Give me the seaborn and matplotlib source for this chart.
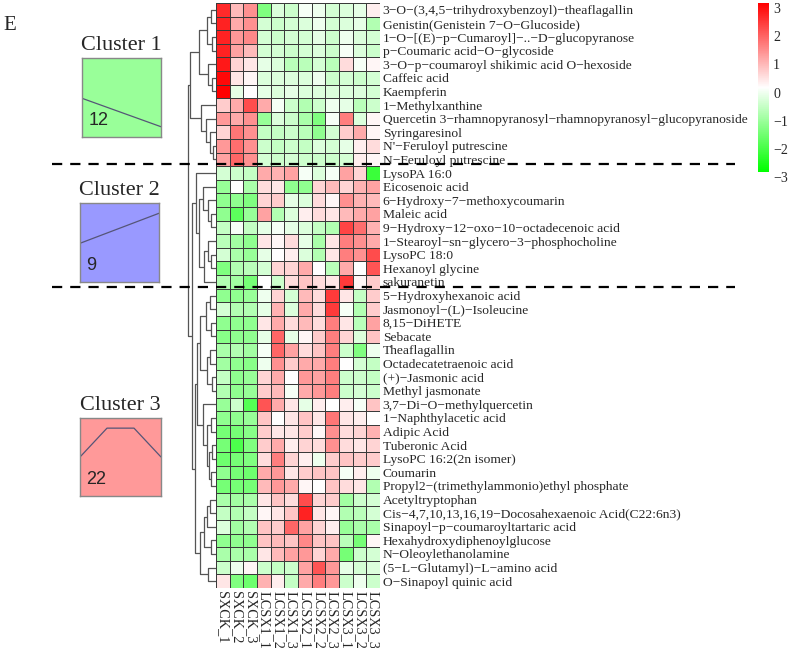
import numpy as np
import pandas as pd
import matplotlib
import matplotlib.pyplot as plt
import seaborn as sns
from matplotlib.colors import LinearSegmentedColormap
from matplotlib.lines import Line2D
from matplotlib.transforms import blended_transform_factory

samples = ['SXCK_1', 'SXCK_2', 'SXCK_3', 'LCSX1_1', 'LCSX1_2', 'LCSX1_3',
           'LCSX2_1', 'LCSX2_2', 'LCSX2_3', 'LCSX3_1', 'LCSX3_2', 'LCSX3_3']

# cluster 1 (12 metabolites)
names_c1 = ['3−O−(3,4,5−trihydroxybenzoyl)−theaflagallin',
            'Genistin(Genistein 7−O−Glucoside)',
            '1−O−[(E)−p−Cumaroyl]−..−D−glucopyranose',
            'p−Coumaric acid−O−glycoside',
            '3−O−p−coumaroyl shikimic acid O−hexoside',
            'Caffeic acid',
            'Kaempferin',
            '1−Methylxanthine',
            'Quercetin 3−rhamnopyranosyl−rhamnopyranosyl−glucopyranoside',
            'Syringaresinol',
            "N'−Feruloyl putrescine",
            'N−Feruloyl putrescine']
values_c1 = [
    [2.5, 0.8, 1.3, -1.5, -0.4, -0.6, -0.1, -0.2, -0.5, -0.4, -0.3, 0.2],
    [2.6, 1.0, 1.3, -0.5, -0.6, -0.5, -0.4, -0.2, -0.5, -0.4, -0.3, -0.9],
    [2.6, 1.2, 1.4, -0.5, -0.6, -0.5, -0.5, -0.3, -0.6, -0.2, -0.4, -0.5],
    [2.6, 1.1, 0.8, -0.5, -0.5, -0.6, -0.5, -0.4, -0.6, -0.1, -0.4, -0.6],
    [2.7, 0.5, 0.3, -0.3, -0.4, -0.8, -0.8, -0.5, -0.8, 0.4, -0.1, 0.1],
    [2.9, 0.3, 0.1, -0.4, -0.4, -0.4, -0.4, -0.2, -0.6, -0.5, -0.6, -0.5],
    [3.0, -0.3, 0.0, -0.3, -0.4, -0.3, -0.4, -0.4, -0.4, -0.4, -0.4, -0.5],
    [0.6, 1.0, 2.1, 1.0, -0.1, -0.6, -0.9, -0.6, -0.2, -0.3, -0.8, -0.6],
    [1.2, 1.0, 1.3, -1.2, -0.4, -0.6, -1.0, -1.5, -0.1, 1.5, -0.4, 0.1],
    [0.5, 1.6, 1.3, -0.7, -0.7, -0.6, -0.8, -1.3, -0.5, 0.6, 1.0, 0.1],
    [1.2, 1.7, 1.3, -0.6, -0.7, -0.6, -0.7, -0.4, -0.5, -0.3, 0.2, 0.4],
    [1.1, 1.8, 1.3, -0.5, -0.6, -0.5, -0.6, -0.6, -0.6, -0.5, 0.2, 0.1],
]

# cluster 2 (9 metabolites)
names_c2 = ['LysoPA 16:0',
            'Eicosenoic acid',
            '6−Hydroxy−7−methoxycoumarin',
            'Maleic acid',
            '9−Hydroxy−12−oxo−10−octadecenoic acid',
            '1−Stearoyl−sn−glycero−3−phosphocholine',
            'LysoPC 18:0',
            'Hexanoyl glycine',
            'sakuranetin']
values_c2 = [
    [-0.5, -0.6, -0.7, 1.0, 0.9, 1.1, -0.1, -0.4, -0.1, 1.1, 0.5, -2.3],
    [-1.2, 0.0, -1.0, 0.4, 0.3, -1.3, -1.3, 0.5, 0.8, 0.5, 0.9, 1.1],
    [-1.3, -1.3, -1.5, 0.5, 0.6, -0.3, -0.4, 0.4, 0.1, 1.3, 0.9, 0.8],
    [-1.3, -1.9, -1.2, 1.1, -0.9, -0.4, 0.2, 0.4, 0.3, 0.8, 1.0, 1.1],
    [-0.7, -0.1, -0.7, -0.3, -0.1, -0.3, -0.4, -0.7, -0.9, 2.2, 1.7, 0.9],
    [-0.8, -1.1, -1.3, 0.3, 0.1, 0.4, -0.3, -1.0, 0.3, 1.5, 1.3, 1.0],
    [-0.5, -1.0, -1.2, -0.3, 0.0, 0.2, -0.4, -0.9, 0.3, 1.5, 1.3, 2.1],
    [-1.5, -0.9, -0.8, -0.5, 0.5, 0.5, 1.0, 0.0, -0.8, 1.0, 0.0, 2.0],
    [-0.9, -1.1, -1.6, 0.0, -0.6, 0.4, 0.7, 0.4, 0.3, 2.3, 0.1, 0.6],
]

# cluster 3 (22 metabolites)
names_c3 = ['5−Hydroxyhexanoic acid',
            'Jasmonoyl−(L)−Isoleucine',
            '8,15−DiHETE',
            'Sebacate',
            'Theaflagallin',
            'Octadecatetraenoic acid',
            '(+)−Jasmonic acid',
            'Methyl jasmonate',
            '3,7−Di−O−methylquercetin',
            '1−Naphthylacetic acid',
            'Adipic Acid',
            'Tuberonic Acid',
            'LysoPC 16:2(2n isomer)',
            'Coumarin',
            'Propyl2−(trimethylammonio)ethyl phosphate',
            'Acetyltryptophan',
            'Cis−4,7,10,13,16,19−Docosahexaenoic Acid(C22:6n3)',
            'Sinapoyl−p−coumaroyltartaric acid',
            'Hexahydroxydiphenoylglucose',
            'N−Oleoylethanolamine',
            '(5−L−Glutamyl)−L−amino acid',
            'O−Sinapoyl quinic acid']
values_c3 = [
    [-1.3, -1.3, -1.2, -0.2, 0.5, -0.5, 0.8, 0.4, 2.3, 0.3, -0.7, 0.6],
    [-0.5, -0.9, -0.9, -0.3, 0.9, -0.4, 1.0, 0.4, 2.3, -0.1, -0.9, 0.6],
    [-1.3, -1.3, -1.3, 0.3, 1.0, 0.4, 0.8, 0.4, 1.5, 0.3, -0.8, 1.1],
    [-1.4, -1.3, -1.3, -0.3, 1.8, -0.3, 0.1, 0.6, 1.5, 0.5, -0.4, 0.7],
    [-1.0, -0.9, -1.1, -0.1, 1.8, 1.1, 0.4, 0.7, 1.5, -0.6, -1.5, -0.2],
    [-1.1, -1.3, -1.4, -0.2, 1.3, 0.6, 1.0, 1.0, 1.5, 0.0, -0.5, -0.7],
    [-0.7, -1.3, -1.2, 0.5, 1.0, 0.0, 1.2, 1.1, 1.5, -0.6, -0.6, -0.7],
    [-0.9, -1.3, -1.2, 0.6, 0.8, -0.1, 1.0, 1.2, 1.5, -0.6, -0.5, -0.6],
    [-1.2, -0.6, -2.0, 2.0, 1.0, 0.3, -0.3, 0.2, 0.0, 0.2, -0.1, 0.7],
    [-1.3, -1.3, -1.2, 0.7, 0.0, 0.3, 0.7, 0.3, 1.6, 0.3, 0.2, 0.0],
    [-1.6, -1.6, -1.4, 0.6, 0.3, 0.3, 0.6, 0.1, 1.3, 0.4, 0.5, 0.9],
    [-1.6, -2.1, -1.5, 0.6, 1.0, 0.2, 0.5, 0.4, 1.3, 0.4, 0.3, 0.5],
    [-1.7, -1.6, -1.5, 0.4, 1.5, 0.5, 0.2, -0.2, 0.6, 0.7, 0.6, 0.6],
    [-1.3, -1.6, -1.7, 1.0, 1.2, 0.3, 0.6, 0.7, 0.7, -0.1, 0.2, -0.2],
    [-1.6, -1.6, -1.6, 0.8, 1.2, 1.0, 0.1, 0.0, 0.7, 0.4, 0.3, -0.9],
    [-1.0, -1.1, -1.0, 0.3, 0.7, 0.4, 2.1, 0.5, 0.6, -1.1, -0.6, -0.5],
    [-0.7, -0.9, -0.7, 0.1, 0.3, 0.7, 2.6, 0.3, 0.1, -0.9, -0.8, -0.5],
    [-0.4, -1.1, -0.9, 0.7, 0.6, 1.8, 1.1, 0.5, 0.2, -1.2, -1.0, -1.0],
    [-1.3, -1.3, -1.3, 0.7, 0.8, 0.7, 1.4, 0.7, 0.7, -0.8, -1.6, 0.1],
    [-1.0, -1.0, -1.0, 0.3, 0.8, 1.1, 1.2, 0.5, 1.0, -1.6, -0.6, -0.5],
    [-0.6, -0.2, 0.1, -0.6, -0.7, -0.6, 1.1, 2.0, 1.2, -0.3, -0.5, -0.4],
    [0.3, -1.5, -1.7, 0.9, 0.2, -0.7, 1.0, 1.5, 1.2, -0.6, -0.2, -0.6],
]

# row dendrogram: (left, right, height), leaves are row indices
tree_c1 = ((((0, 1, 5), (2, 3, 4), 9), (4, (5, 6, 4), 8), 17),
           (7, (8, (9, (10, 11, 3), 6), 10), 15), 26)
tree_c2 = (12, ((13, (14, (15, 16, 5), 8), 13),
                ((17, (18, 19, 5), 8), 20, 12), 17), 20)
tree_c3 = (((((21, 22, 6), (23, 24, 5), 10), ((25, 26, 6), (27, 28, 4), 9), 16),
            (29, ((30, 31, 5), ((32, 33, 4), (34, 35, 5), 7), 9), 13), 19),
           ((((36, 37, 6), 38, 9), (39, 40, 5), 12), (41, 42, 8), 16), 21)
row_tree = (tree_c1, (tree_c2, tree_c3, 24), 28)

cluster_titles = ['Cluster 1', 'Cluster 2', 'Cluster 3']
cluster_sizes = [12, 9, 22]
cluster_colors = ['#99ff99', '#9999ff', '#ff9999']
cluster_trends = [[0.49, 0.13], [0.49, 0.87], [0.5, 0.87, 0.87, 0.5]]

df = pd.DataFrame(values_c1 + values_c2 + values_c3,
                  index=names_c1 + names_c2 + names_c3, columns=samples)

sns.set_style('white')
plt.rcParams['font.family'] = ['Liberation Serif', 'DejaVu Serif']

W, H = 789, 648
fig = plt.figure(figsize=(W / 100, H / 100), dpi=100)


def px(x0, y0, x1, y1):
    return [x0 / W, 1 - y1 / H, (x1 - x0) / W, (y1 - y0) / H]


ax = fig.add_axes(px(216, 3, 380, 588))
cax = fig.add_axes(px(758, 3, 769, 172))
dax = fig.add_axes(px(182, 3, 216, 588))

cmap = LinearSegmentedColormap.from_list('gwr', ['#00ff00', '#ffffff', '#ff0000'])
sns.heatmap(df, ax=ax, cmap=cmap, vmin=-3, vmax=3, linewidths=0.6,
            linecolor='#3a3a3a', cbar_ax=cax, square=False,
            xticklabels=True, yticklabels=True)
ax.yaxis.tick_right()
ax.set_yticklabels(df.index, rotation=0, fontsize=9.7)
ax.set_xticklabels(samples, rotation=270, fontsize=10.3)
ax.tick_params(length=0, pad=2)
ax.set_xlabel('')
ax.set_ylabel('')

cbar = ax.collections[0].colorbar
cbar.outline.set_visible(False)
cbar.set_ticks([-3, -2, -1, 0, 1, 2, 3])
cbar.ax.tick_params(length=0, labelsize=10, pad=3)
for lab in cbar.ax.get_yticklabels():
    lab.set_va('top')


# dendrogram
def draw(node):
    if isinstance(node, int):
        return node + 0.5, 0
    left, right, h = node
    yl, hl = draw(left)
    yr, hr = draw(right)
    dax.plot([hl, h, h, hr], [yl, yl, yr, yr], color='#555555', lw=0.9,
             solid_capstyle='butt')
    return (yl + yr) / 2, h


draw(row_tree)
dax.set_ylim(len(df), 0)
dax.set_xlim(34, 0)
dax.axis('off')

# dashed cluster separators
trans = blended_transform_factory(fig.transFigure, ax.transData)
for b in np.cumsum(cluster_sizes)[:-1]:
    fig.add_artist(Line2D([52 / W, 735 / W], [b - 0.15, b - 0.15], transform=trans,
                          color='black', lw=1.6, dashes=(4.6, 3.6), zorder=10))

# cluster trend boxes
boxes = [(82, 58, 161, 137), (80, 203, 159, 282), (80, 418, 161, 496)]
for (x0, y0, x1, y1), title, n, col, trend in zip(boxes, cluster_titles, cluster_sizes,
                                                   cluster_colors, cluster_trends):
    bax = fig.add_axes(px(x0, y0, x1, y1))
    bax.set_facecolor(col)
    bax.plot(np.linspace(0, 1, len(trend)), trend, color='#555577', lw=0.9)
    bax.set_xlim(0, 1)
    bax.set_ylim(0, 1)
    bax.set_xticks([])
    bax.set_yticks([])
    for s in bax.spines.values():
        s.set_color('#888888')
        s.set_linewidth(1)
    bax.text(0.08, 0.1, str(n), transform=bax.transAxes, fontsize=13,
             family='Liberation Sans', ha='left', va='bottom')
    fig.text((x0 + x1) / 2 / W, 1 - (y0 - 8) / H, title, ha='center', va='baseline',
             fontsize=16)

fig.text(3 / W, 1 - 30 / H, 'E', fontsize=15, ha='left', va='baseline')

fig.savefig('out.png', dpi=100)
